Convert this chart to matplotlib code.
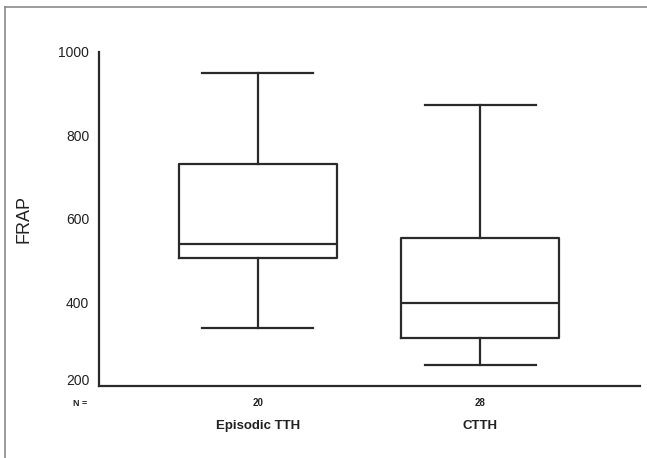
import matplotlib
matplotlib.use("Agg")
import matplotlib.pyplot as plt
from matplotlib.lines import Line2D
import matplotlib.transforms as mtransforms

plt.rcParams['font.family'] = ['Liberation Sans', 'DejaVu Sans']

# data (whisker high, Q3, median, Q1, whisker low)
groups = ["Episodic TTH", "CTTH"]
counts = ["20", "28"]
whisker_hi = [950, 873]
q3 = [731, 555]
medians = [540, 399]
q1 = [506, 314]
whisker_lo = [339, 250]
yticks = [200, 400, 600, 800, 1000]

stats = []
for i, g in enumerate(groups):
    stats.append({
        "label": g,
        "whishi": whisker_hi[i],
        "q3": q3[i],
        "med": medians[i],
        "q1": q1[i],
        "whislo": whisker_lo[i],
        "fliers": [],
    })

fig = plt.figure(figsize=(6.47, 4.58), dpi=100)
ax = fig.add_axes([0.153, 0.158, 0.836, 0.7285])

col = "#2a2a2a"
lw = 1.6
ax.bxp(stats, positions=[1, 2], widths=0.71, showfliers=False,
       boxprops=dict(color=col, linewidth=lw),
       medianprops=dict(color=col, linewidth=lw),
       whiskerprops=dict(color=col, linewidth=lw),
       capprops=dict(color=col, linewidth=lw),
       capwidths=0.5)

ax.set_xlim(0.284, 2.72)
ax.set_ylim(200, 1000)
ax.set_yticks(yticks)
ax.set_yticklabels([str(t) for t in yticks], fontsize=10, color="#222222")
ax.tick_params(axis="y", length=0, pad=7)
ax.set_xticks([])

# the lowest label sits a little above the axis line, as in the original
t0 = ax.yaxis.get_major_ticks()[0]
t0.label1.set_transform(t0.label1.get_transform() +
                        mtransforms.ScaledTranslation(0, 4.5 / 72, fig.dpi_scale_trans))

for s in ["top", "right"]:
    ax.spines[s].set_visible(False)
for s in ["left", "bottom"]:
    ax.spines[s].set_color(col)
    ax.spines[s].set_linewidth(lw)

ax.set_ylabel("FRAP", fontsize=13, color="#222222", labelpad=19)

trans = mtransforms.blended_transform_factory(ax.transData, fig.transFigure)
ax.text(0.2, 1 - 403 / 458, "N =", transform=trans, fontsize=6.5, fontweight="bold",
        ha="center", va="center", color="#222222")
for i, g in enumerate(groups):
    ax.text(i + 1, 1 - 403 / 458, counts[i], transform=trans, fontsize=7,
            fontweight="bold", ha="center", va="center", color="#222222")
    ax.text(i + 1, 1 - 426 / 458, g, transform=trans, fontsize=9.5,
            fontweight="bold", ha="center", va="center", color="#222222")

# gray frame on left and top of the figure
fig.add_artist(Line2D([5 / 647, 5 / 647], [0, 1 - 7 / 458], transform=fig.transFigure,
                      color="#8a8a8a", linewidth=1.2))
fig.add_artist(Line2D([5 / 647, 1], [1 - 7 / 458, 1 - 7 / 458], transform=fig.transFigure,
                      color="#8a8a8a", linewidth=1.2))

fig.savefig("out.png", dpi=100)
